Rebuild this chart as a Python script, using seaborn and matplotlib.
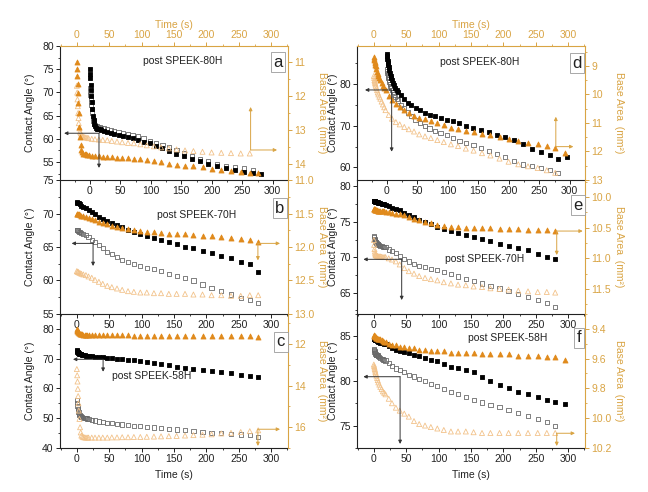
import matplotlib
matplotlib.use('Agg')
import matplotlib.pyplot as plt
import seaborn as sns
from matplotlib.ticker import MultipleLocator, AutoMinorLocator, FormatStrFormatter

# time grids (s)
t_base = [0, 1, 2, 3, 5, 7, 10, 14, 18, 23, 28, 34, 40, 47, 54, 62, 70, 79, 88,
          98, 108, 119, 130, 142, 154, 167, 180, 194, 208, 223, 238, 253, 267, 280]
t_long = t_base + [295]
# extra readings in the steep first seconds
t_early = [0.5, 1.5, 2.5, 4, 6, 8.5, 12, 16]

# (a) post SPEEK-80H, left column
a_ca_fill = [75, 73, 70.5, 68, 65, 63.2, 62.4, 62.1, 61.9, 61.7, 61.5, 61.3, 61.1, 60.8, 60.6, 60.4, 60.2,
             59.8, 59.4, 59.0, 58.4, 57.9, 57.3, 56.7, 56.2, 55.6, 55.1, 54.6, 54.1, 53.6, 53.2, 52.9, 52.6, 52.4]
a_ca_open = [71, 69.5, 68, 66.5, 64.5, 63.3, 62.8, 62.6, 62.4, 62.2, 62.0, 61.8, 61.6, 61.4, 61.2, 61.0, 60.8,
             60.5, 60.1, 59.6, 59.1, 58.6, 58.1, 57.5, 56.9, 56.3, 55.7, 55.2, 54.6, 54.2, 53.9, 53.7, 53.2]
a_ba_fill = [11.0, 11.4, 11.9, 12.5, 13.2, 13.6, 13.7, 13.72, 13.74, 13.75, 13.76, 13.77, 13.78, 13.79, 13.8,
             13.81, 13.82, 13.83, 13.84, 13.86, 13.89, 13.92, 13.95, 13.99, 14.02, 14.05, 14.07, 14.09, 14.15,
             14.19, 14.21, 14.23, 14.25, 14.27]
a_ba_open = [11.7, 12.1, 12.5, 12.8, 13.05, 13.15, 13.2, 13.22, 13.24, 13.26, 13.27, 13.28, 13.29, 13.3, 13.32,
             13.34, 13.36, 13.38, 13.39, 13.42, 13.45, 13.48, 13.51, 13.54, 13.57, 13.6, 13.62, 13.64, 13.66,
             13.67, 13.68, 13.69, 13.69]
a_ca_fill_early = [74, 71.7, 69.2, 66.5, 64, 62.7, 62.2, 62.0]
a_ca_open_early = [70.2, 68.7, 67.2, 65.5, 63.8, 63.0, 62.7, 62.5]
a_ba_fill_early = [11.2, 11.65, 12.2, 12.9, 13.45, 13.66, 13.71, 13.73]
a_ba_open_early = [11.9, 12.3, 12.65, 12.95, 13.1, 13.18, 13.21, 13.23]

# (b) post SPEEK-70H, left column
b_ca_fill = [71.7, 71.6, 71.6, 71.5, 71.4, 71.2, 71.0, 70.8, 70.5, 70.2, 69.9, 69.5, 69.2, 68.9, 68.6, 68.3, 68.0,
             67.6, 67.3, 67.0, 66.7, 66.4, 66.0, 65.7, 65.4, 65.0, 64.8, 64.4, 64.1, 63.7, 63.3, 62.8, 62.4, 61.3]
b_ca_open = [67.6, 67.5, 67.4, 67.3, 67.2, 67.1, 67.0, 66.8, 66.5, 66.1, 65.7, 65.3, 64.8, 64.3, 63.9, 63.5, 63.1,
             62.7, 62.4, 62.2, 61.9, 61.7, 61.4, 61.0, 60.7, 60.4, 60.0, 59.4, 58.9, 58.4, 57.9, 57.4, 57.1, 56.6]
b_ba_fill = [11.5, 11.5, 11.51, 11.51, 11.52, 11.53, 11.54, 11.55, 11.56, 11.58, 11.6, 11.62, 11.64, 11.66, 11.68,
             11.7, 11.72, 11.73, 11.75, 11.76, 11.77, 11.78, 11.79, 11.8, 11.8, 11.81, 11.82, 11.83, 11.84, 11.85,
             11.87, 11.88, 11.9, 11.92]
b_ba_open = [12.36, 12.37, 12.37, 12.38, 12.39, 12.4, 12.41, 12.42, 12.44, 12.46, 12.49, 12.52, 12.55, 12.58, 12.6,
             12.62, 12.64, 12.66, 12.67, 12.68, 12.68, 12.69, 12.69, 12.7, 12.7, 12.7, 12.71, 12.71, 12.72, 12.72,
             12.73, 12.73, 12.72, 12.72]

# (c) post SPEEK-58H, left column
c_ca_fill = [72.8, 72.4, 72.1, 71.9, 71.6, 71.4, 71.2, 71.0, 70.9, 70.8, 70.7, 70.6, 70.5, 70.3, 70.2, 70.0, 69.9,
             69.7, 69.5, 69.2, 68.9, 68.6, 68.2, 67.8, 67.3, 66.9, 66.6, 66.2, 65.9, 65.6, 65.2, 64.6, 64.3, 63.7]
c_ca_open = [56, 54, 52.5, 51.5, 50.8, 50.4, 50.2, 50.0, 49.8, 49.5, 49.2, 48.9, 48.7, 48.5, 48.3, 48.1, 47.9,
             47.7, 47.5, 47.3, 47.1, 46.9, 46.7, 46.4, 46.2, 45.9, 45.6, 45.3, 45.1, 44.9, 44.7, 44.5, 44.3, 43.8]
c_ba_fill = [11.25, 11.35, 11.42, 11.46, 11.5, 11.52, 11.54, 11.55, 11.55, 11.56, 11.56, 11.57, 11.57, 11.57,
             11.58, 11.58, 11.58, 11.58, 11.59, 11.59, 11.59, 11.6, 11.6, 11.6, 11.6, 11.61, 11.61, 11.61, 11.62,
             11.62, 11.62, 11.63, 11.63, 11.64]
c_ba_open = [13.2, 13.8, 14.5, 15.2, 16.0, 16.4, 16.48, 16.5, 16.5, 16.5, 16.5, 16.5, 16.5, 16.5, 16.49, 16.49,
             16.48, 16.48, 16.47, 16.47, 16.46, 16.45, 16.44, 16.43, 16.42, 16.4, 16.38, 16.36, 16.34, 16.3,
             16.27, 16.23, 16.19, 16.15]
c_ca_fill_early = [72.6, 72.2, 72.0, 71.7, 71.5, 71.3, 71.1, 70.95]
c_ca_open_early = [55, 53.2, 52, 51.1, 50.6, 50.3, 50.1, 49.9]
c_ba_fill_early = [11.3, 11.39, 11.44, 11.48, 11.51, 11.53, 11.55, 11.55]
c_ba_open_early = [13.5, 14.15, 14.85, 15.6, 16.25, 16.45, 16.49, 16.5]

# (d) post SPEEK-80H, right column
d_ca_fill = [87, 86, 85, 84, 82.5, 81.4, 80.2, 79, 78, 77.2, 76.4, 75.5, 74.8, 74.2, 73.6, 73.0, 72.6, 72.2,
             71.8, 71.4, 71.0, 70.5, 70.0, 69.5, 69.0, 68.4, 67.8, 67.2, 66.5, 65.6, 64.3, 63.6, 62.9, 61.9, 62.6]
d_ca_open = [83.4, 82.5, 81.7, 81.0, 79.9, 79.1, 78.0, 76.9, 76.0, 75.0, 74.1, 73.1, 72.2, 71.4, 70.6, 69.9,
             69.3, 68.8, 68.3, 67.7, 67.0, 66.4, 65.8, 65.3, 64.6, 63.9, 63.2, 62.5, 61.5, 60.7, 60.3, 59.9, 59.3, 58.7]
d_ba_fill = [8.7, 8.8, 8.9, 9.0, 9.2, 9.35, 9.5, 9.7, 9.85, 10.05, 10.2, 10.33, 10.45, 10.56, 10.65, 10.74,
             10.81, 10.87, 10.94, 11.0, 11.08, 11.16, 11.21, 11.27, 11.32, 11.38, 11.43, 11.49, 11.55, 11.64,
             11.7, 11.75, 11.82, 11.88, 12.06]
d_ba_open = [9.35, 9.5, 9.6, 9.7, 9.85, 10.0, 10.15, 10.35, 10.55, 10.72, 10.85, 10.97, 11.05, 11.14, 11.22,
             11.3, 11.4, 11.47, 11.53, 11.6, 11.67, 11.75, 11.81, 11.9, 11.97, 12.06, 12.14, 12.25, 12.36,
             12.45, 12.52, 12.58, 12.66, 12.75]
d_ca_fill_early = [86.5, 85.5, 84.5, 83.2, 81.9, 80.8, 79.6, 78.5]
d_ca_open_early = [83.0, 82.1, 81.3, 80.4, 79.5, 78.5, 77.4, 76.4]
d_ba_fill_early = [8.75, 8.85, 8.95, 9.1, 9.28, 9.43, 9.6, 9.78]
d_ba_open_early = [9.42, 9.55, 9.65, 9.78, 9.93, 10.08, 10.25, 10.45]

# (e) post SPEEK-70H, right column
e_ca_fill = [78.0, 77.9, 77.9, 77.8, 77.8, 77.7, 77.6, 77.5, 77.4, 77.2, 77.0, 76.8, 76.6, 76.3, 76.0, 75.7,
             75.3, 75.0, 74.7, 74.3, 74.0, 73.7, 73.4, 73.1, 72.8, 72.6, 72.3, 71.9, 71.6, 71.3, 71.0, 70.4, 70.1, 69.7]
e_ca_open = [73.0, 72.6, 72.3, 72.1, 71.9, 71.8, 71.6, 71.5, 71.4, 71.1, 70.9, 70.6, 70.2, 69.8, 69.4, 69.1,
             68.8, 68.6, 68.4, 68.2, 67.9, 67.6, 67.3, 66.9, 66.6, 66.3, 66.0, 65.6, 65.2, 64.8, 64.4, 64.0, 63.6, 63.0]
e_ba_fill = [10.2, 10.2, 10.21, 10.21, 10.21, 10.22, 10.22, 10.23, 10.24, 10.25, 10.26, 10.27, 10.28, 10.3,
             10.32, 10.35, 10.37, 10.4, 10.43, 10.45, 10.47, 10.48, 10.49, 10.5, 10.5, 10.51, 10.51, 10.52,
             10.52, 10.52, 10.53, 10.53, 10.54, 10.55]
e_ba_open = [10.7, 10.85, 10.92, 10.95, 10.96, 10.97, 10.97, 10.98, 10.98, 11.0, 11.02, 11.05, 11.1, 11.16,
             11.21, 11.25, 11.29, 11.32, 11.34, 11.36, 11.39, 11.41, 11.43, 11.44, 11.46, 11.47, 11.49, 11.5,
             11.51, 11.53, 11.54, 11.55, 11.55, 11.56]
e_ca_fill_early = [77.95, 77.9, 77.85, 77.8, 77.75, 77.65, 77.55, 77.45]
e_ca_open_early = [72.8, 72.45, 72.2, 72.0, 71.85, 71.7, 71.55, 71.45]
e_ba_fill_early = [10.2, 10.2, 10.21, 10.21, 10.22, 10.22, 10.23, 10.23]
e_ba_open_early = [10.78, 10.89, 10.94, 10.955, 10.965, 10.97, 10.975, 10.98]

# (f) post SPEEK-58H, right column
f_ca_fill = [84.7, 84.7, 84.6, 84.6, 84.5, 84.4, 84.3, 84.2, 84.1, 83.9, 83.7, 83.5, 83.4, 83.2, 83.1, 82.9,
             82.8, 82.6, 82.4, 82.2, 81.9, 81.6, 81.4, 81.2, 81.0, 80.5, 80.0, 79.6, 79.2, 78.8, 78.6, 78.2,
             77.9, 77.6, 77.4]
f_ca_open = [83.6, 83.3, 83.1, 82.9, 82.9, 82.8, 82.6, 82.4, 82.3, 82.0, 81.7, 81.4, 81.2, 81.0, 80.7, 80.5,
             80.2, 80.0, 79.7, 79.4, 79.1, 78.8, 78.5, 78.2, 77.9, 77.6, 77.3, 77.1, 76.8, 76.4, 76.1, 75.7, 75.4, 75.0]
f_ba_fill = [9.44, 9.45, 9.45, 9.46, 9.46, 9.47, 9.47, 9.48, 9.49, 9.5, 9.51, 9.51, 9.52, 9.52, 9.53, 9.53,
             9.54, 9.54, 9.55, 9.55, 9.55, 9.56, 9.56, 9.56, 9.56, 9.57, 9.57, 9.57, 9.57, 9.58, 9.58, 9.58,
             9.59, 9.59, 9.61]
f_ba_open = [9.64, 9.66, 9.68, 9.7, 9.73, 9.76, 9.79, 9.82, 9.84, 9.87, 9.9, 9.93, 9.95, 9.97, 9.99, 10.02,
             10.04, 10.05, 10.06, 10.07, 10.08, 10.09, 10.09, 10.09, 10.095, 10.1, 10.1, 10.1, 10.1, 10.1, 10.1,
             10.1, 10.1, 10.1]
f_ca_fill_early = [84.7, 84.65, 84.6, 84.55, 84.45, 84.35, 84.25, 84.15]
f_ca_open_early = [83.45, 83.2, 83.0, 82.9, 82.85, 82.7, 82.5, 82.35]
f_ba_fill_early = [9.445, 9.45, 9.455, 9.46, 9.465, 9.47, 9.475, 9.485]
f_ba_open_early = [9.65, 9.67, 9.69, 9.715, 9.745, 9.775, 9.805, 9.83]

ORANGE = '#E08A1C'
LIGHT = '#F2C28A'
GOLD = '#D9A444'
GRAY = '#6A6A6A'

sns.set_style('ticks')
plt.rcParams['font.family'] = ['Liberation Sans', 'DejaVu Sans']
plt.rcParams['font.size'] = 7.5

fig = plt.figure(figsize=(6.48, 4.92), dpi=100)

COL_X = [60 / 648, 357 / 648]
ROW_Y = [1 - 180 / 492, 1 - 314 / 492, 1 - 448 / 492]
W, H = 228 / 648, 134 / 492

# layout / style options for each panel (positions in axes fraction)
panels = [
    dict(tag='a', col=0, row=0, title='post SPEEK-80H', title_xy=(0.54, 0.885), tag_xy=(0.956, 0.88),
         ca=(a_ca_fill, a_ca_open), ba=(a_ba_fill, a_ba_open), t_all=t_base,
         early=(a_ca_fill_early, a_ca_open_early, a_ba_fill_early, a_ba_open_early),
         ca_lim=(51.1, 80.01), ca_step=5, ba_lim=(14.47, 10.53), ba_step=1, ba_fmt='%d',
         top=True, ca_xlim=(-49, 325),
         black_arrow=((0.171, 0.349), (0.018, 0.349), (0.171, 0.09)),
         orange_arrow=((0.836, 0.224), (0.952, 0.224), (0.836, 0.545))),
    dict(tag='b', col=0, row=1, title='post SPEEK-70H', title_xy=(0.60, 0.74), tag_xy=(0.965, 0.79),
         ca=(b_ca_fill, b_ca_open), ba=(b_ba_fill, b_ba_open), t_all=t_base, early=None,
         ca_lim=(54.99, 75.01), ca_step=5, ba_lim=(13.001, 10.999), ba_step=0.5, ba_fmt='%.1f',
         top=False, ca_xlim=(-26, 326),
         black_arrow=((0.145, 0.527), (0.051, 0.527), (0.145, 0.358)),
         orange_arrow=((0.868, 0.527), (0.965, 0.527), (0.868, 0.40))),
    dict(tag='c', col=0, row=2, title='post SPEEK-58H', title_xy=(0.404, 0.537), tag_xy=(0.969, 0.793),
         ca=(c_ca_fill, c_ca_open), ba=(c_ba_fill, c_ba_open), t_all=t_base,
         early=(c_ca_fill_early, c_ca_open_early, c_ba_fill_early, c_ba_open_early),
         ca_lim=(39.99, 85), ca_step=10, ba_lim=(17.0, 10.55), ba_step=2, ba_fmt='%d',
         top=False, ca_xlim=(-26, 326), bottom_label=True,
         black_arrow=((0.189, 0.662), (0.057, 0.662), (0.189, 0.569)),
         orange_arrow=((0.868, 0.140), (0.965, 0.140), (0.868, 0.015))),
    dict(tag='d', col=1, row=0, title='post SPEEK-80H', title_xy=(0.539, 0.883), tag_xy=(0.964, 0.873),
         ca=(d_ca_fill, d_ca_open), ba=(d_ba_fill, d_ba_open), t_all=t_long,
         early=(d_ca_fill_early, d_ca_open_early, d_ba_fill_early, d_ba_open_early),
         ca_lim=(57, 89), ca_step=10, ba_lim=(13.001, 8.3), ba_step=1, ba_fmt='%d',
         top=True, ca_xlim=(-49, 325),
         black_arrow=((0.152, 0.672), (0.035, 0.672), (0.152, 0.211)),
         orange_arrow=((0.872, 0.249), (0.949, 0.249), (0.872, 0.472))),
    dict(tag='e', col=1, row=1, title='post SPEEK-70H', title_xy=(0.561, 0.408), tag_xy=(0.969, 0.813),
         ca=(e_ca_fill, e_ca_open), ba=(e_ba_fill, e_ba_open), t_all=t_base,
         early=(e_ca_fill_early, e_ca_open_early, e_ba_fill_early, e_ba_open_early),
         ca_lim=(62, 80.9), ca_step=5, ba_lim=(11.91, 9.72), ba_step=0.5, ba_fmt='%.1f',
         top=False, ca_xlim=(-26, 326),
         black_arrow=((0.196, 0.408), (0.028, 0.408), (0.196, 0.104)),
         orange_arrow=((0.876, 0.619), (0.99, 0.619), (0.876, 0.44))),
    dict(tag='f', col=1, row=2, title='post SPEEK-58H', title_xy=(0.662, 0.821), tag_xy=(0.974, 0.821),
         ca=(f_ca_fill, f_ca_open), ba=(f_ba_fill, f_ba_open), t_all=t_long,
         early=(f_ca_fill_early, f_ca_open_early, f_ba_fill_early, f_ba_open_early),
         ca_lim=(72.5, 87.5), ca_step=5, ba_lim=(10.201, 9.30), ba_step=0.2, ba_fmt='%.1f',
         top=False, ca_xlim=(-26, 326), bottom_label=True,
         black_arrow=((0.189, 0.532), (0.028, 0.532), (0.189, 0.03)),
         orange_arrow=((0.876, 0.110), (0.956, 0.110), (0.876, 0.015))),
]

SQ, TRI = 9, 13


def scatter(ax, t, v, marker, size, face, edge):
    sns.scatterplot(x=t[:len(v)], y=v, ax=ax, marker=marker, s=size, color=edge,
                    facecolor=face, edgecolor=edge, linewidth=0.6, legend=False)


def arrow(ax, start, end, color):
    ax.annotate('', xy=end, xytext=start, xycoords='axes fraction', textcoords='axes fraction',
                arrowprops=dict(arrowstyle='-|>', color=color, lw=0.7, mutation_scale=5,
                                shrinkA=0, shrinkB=0))


for p in panels:
    rect = [COL_X[p['col']], ROW_Y[p['row']], W, H]
    ax = fig.add_axes(rect)
    ax.patch.set_visible(False)
    if p['top']:
        ax2 = fig.add_axes(rect)
        ax2.patch.set_visible(False)
        ax2.xaxis.set_ticks_position('top')
        ax2.xaxis.set_label_position('top')
        ax2.yaxis.set_ticks_position('right')
        ax2.yaxis.set_label_position('right')
    else:
        ax2 = ax.twinx()

    t = p['t_all']
    styles = [(ax, 's', SQ, 'black', 'black'), (ax, 's', SQ, 'none', GRAY),
              (ax2, '^', TRI, ORANGE, ORANGE), (ax2, '^', TRI, 'none', LIGHT)]
    series = [p['ca'][0], p['ca'][1], p['ba'][0], p['ba'][1]]
    # open symbols first, filled on top
    for k in (1, 0, 3, 2):
        a_, m, s, fc, ec = styles[k]
        scatter(a_, t, series[k], m, s, fc, ec)
        if p['early'] is not None:
            scatter(a_, t_early, p['early'][k], m, s, fc, ec)

    ax.set_xlim(*p['ca_xlim'])
    ax.set_ylim(*p['ca_lim'])
    ax2.set_ylim(*p['ba_lim'])
    if p['top']:
        ax2.set_xlim(-26, 326)
    ax.set_xlabel('')
    ax.set_ylabel('')
    ax2.set_xlabel('')
    ax2.set_ylabel('')

    ax.xaxis.set_major_locator(MultipleLocator(50))
    ax.xaxis.set_minor_locator(AutoMinorLocator(2))
    ax.yaxis.set_major_locator(MultipleLocator(p['ca_step']))
    ax.yaxis.set_minor_locator(AutoMinorLocator(2))
    ax2.yaxis.set_major_locator(MultipleLocator(p['ba_step']))
    ax2.yaxis.set_minor_locator(AutoMinorLocator(2))
    ax2.yaxis.set_major_formatter(FormatStrFormatter(p['ba_fmt']))

    for s in ('top', 'right'):
        ax.spines[s].set_visible(False)
    for s in ('left', 'bottom'):
        ax2.spines[s].set_visible(False)
    ax2.spines['top'].set_visible(p['top'])
    ax2.spines['right'].set_color(GOLD)
    ax2.spines['top'].set_color(GOLD)
    ax.spines['left'].set_color('#222222')
    ax.spines['bottom'].set_color('#222222')
    for sp in list(ax.spines.values()) + list(ax2.spines.values()):
        sp.set_linewidth(0.8)

    ax.tick_params(axis='both', which='major', direction='out', length=3, width=0.7, pad=1.5,
                   labelsize=7.5, colors='#222222')
    ax.tick_params(axis='both', which='minor', direction='out', length=1.7, width=0.6, colors='#222222')
    ax2.tick_params(axis='y', which='major', direction='out', length=3, width=0.7, pad=1.5,
                    labelsize=7.5, colors=GOLD)
    ax2.tick_params(axis='y', which='minor', direction='out', length=1.7, width=0.6, colors=GOLD)
    if p['top']:
        ax2.xaxis.set_major_locator(MultipleLocator(50))
        ax2.xaxis.set_minor_locator(AutoMinorLocator(2))
        ax2.tick_params(axis='x', which='major', direction='out', length=3, width=0.7, pad=1.5,
                        labelsize=7.5, colors=GOLD)
        ax2.tick_params(axis='x', which='minor', direction='out', length=1.7, width=0.6, colors=GOLD)
        ax2.text(0.5, 1.155, 'Time (s)', transform=ax2.transAxes, ha='center', va='center',
                 color=GOLD, fontsize=7.5)

    x_left = -0.13 if p['col'] == 0 else -0.105
    ax.text(x_left, 0.5, 'Contact Angle (°)', transform=ax.transAxes, rotation=90,
            ha='center', va='center', fontsize=7.5, color='#222222')
    ax2.text(1.15, 0.5, 'Base Area  (mm²)', transform=ax2.transAxes, rotation=-90,
             ha='center', va='center', fontsize=7.5, color=GOLD)
    if p.get('bottom_label'):
        ax.text(0.5, -0.2, 'Time (s)', transform=ax.transAxes, ha='center', va='center',
                fontsize=7.5, color='#222222')

    ax2.text(*p['title_xy'], p['title'], transform=ax2.transAxes, ha='center', va='center',
             fontsize=7.5, color='#222222')
    ax2.text(*p['tag_xy'], p['tag'], transform=ax2.transAxes, ha='center', va='center',
             fontsize=12, color='#222222',
             bbox=dict(boxstyle='square,pad=0.15', fc='white', ec='#9a9a9a', lw=0.6))

    b0, b1, b2 = p['black_arrow']
    arrow(ax2, b0, b1, '#333333')
    arrow(ax2, b0, b2, '#333333')
    o0, o1, o2 = p['orange_arrow']
    arrow(ax2, o0, o1, GOLD)
    arrow(ax2, o0, o2, GOLD)

fig.savefig('out.png', dpi=100)
